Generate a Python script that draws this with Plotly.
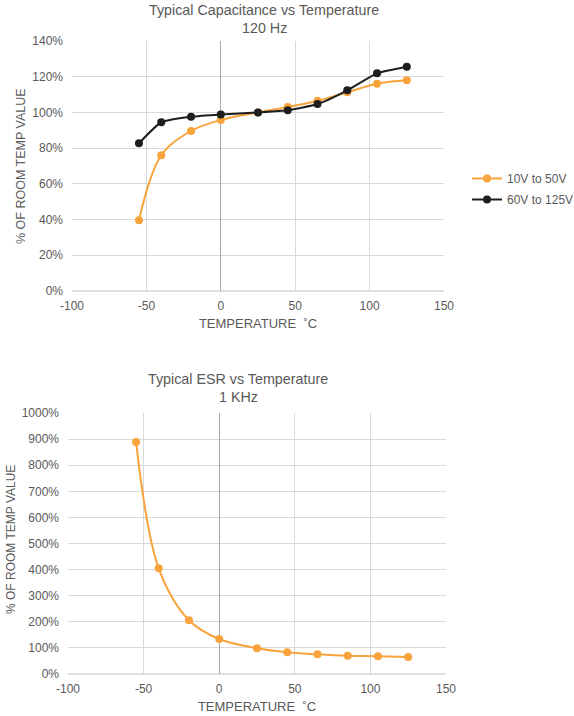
import plotly.graph_objects as go

temps = [-55, -40, -20, 0, 25, 45, 65, 85, 105, 125]
cap_low_v = [39.6, 76, 89.6, 95.8, 100, 103, 106.5, 111.3, 116.1, 118]
cap_high_v = [82.7, 94.5, 97.6, 98.9, 100, 101.2, 104.7, 112.4, 121.9, 125.6]
esr = [889, 405, 206, 134, 98.5, 83, 75.5, 70, 68, 65]

cap_ticks = [0, 20, 40, 60, 80, 100, 120, 140]
esr_ticks = [0, 100, 200, 300, 400, 500, 600, 700, 800, 900, 1000]
x_ticks = [-100, -50, 0, 50, 100, 150]

W, H = 574, 716
ORANGE = "#F9A33D"
BLACK = "#1E1E1E"
GREY = "#595959"
GRID = "#D9D9D9"
FONT = "Liberation Sans, Arial, sans-serif"

fig = go.Figure()
fig.add_trace(go.Scatter(x=temps, y=cap_low_v, name="10V to 50V", mode="lines+markers",
                         legendgroup="a",
                         line=dict(color=ORANGE, width=2, shape="spline", smoothing=1),
                         marker=dict(color=ORANGE, size=8), xaxis="x", yaxis="y"))
fig.add_trace(go.Scatter(x=temps, y=cap_high_v, name="60V to 125V", mode="lines+markers",
                         legendgroup="b",
                         line=dict(color=BLACK, width=2, shape="spline", smoothing=0.5),
                         marker=dict(color=BLACK, size=8), xaxis="x", yaxis="y"))
fig.add_trace(go.Scatter(x=temps, y=esr, name="ESR", mode="lines+markers", showlegend=False,
                         line=dict(color=ORANGE, width=2, shape="spline", smoothing=1),
                         marker=dict(color=ORANGE, size=8), xaxis="x2", yaxis="y2"))


def px_x(p):
    return p / W


def px_y(p):
    return 1 - p / H


tickfont = dict(size=12, color=GREY, family=FONT)
x_text = [str(v) for v in x_ticks]


def xaxis(dom, anchor):
    return dict(domain=dom, anchor=anchor, range=[-100, 150],
                tickvals=x_ticks, ticktext=x_text, ticks="", tickfont=tickfont,
                ticklabelstandoff=6, automargin=False,
                showgrid=True, gridcolor=GRID, gridwidth=1, showline=False,
                zeroline=True, zerolinecolor="#ABABAB", zerolinewidth=1,
                title=dict(text="TEMPERATURE  ˚C", font=dict(size=13, color=GREY), standoff=6))


def yaxis(dom, anchor, rng, vals):
    return dict(domain=dom, anchor=anchor, range=rng, automargin=False,
                tickvals=vals, ticktext=[f"{v}%" for v in vals], ticks="", tickfont=tickfont,
                ticklabelstandoff=8,
                showgrid=True, gridcolor=GRID, gridwidth=1, showline=False, zeroline=False)


fig.update_layout(
    width=W, height=H, margin=dict(l=0, r=0, t=0, b=0, pad=0, autoexpand=False),
    paper_bgcolor="white", plot_bgcolor="white",
    font=dict(family=FONT, color=GREY),
    xaxis=xaxis([px_x(72), px_x(444)], "y"),
    yaxis=yaxis([px_y(291), px_y(41)], "x", [0, 140], cap_ticks),
    xaxis2=xaxis([px_x(68), px_x(446)], "y2"),
    yaxis2=yaxis([px_y(674), px_y(413)], "x2", [0, 1000], esr_ticks),
    legend=dict(x=px_x(467), y=px_y(164), xanchor="left", yanchor="top",
                font=dict(size=12, color=GREY), bgcolor="rgba(0,0,0,0)",
                itemwidth=30, tracegroupgap=2),
)

for xa, ya in (("x", "y"), ("x2", "y2")):
    fig.add_shape(type="line", xref=f"{xa} domain", yref=f"{ya} domain",
                  x0=0, x1=1, y0=0, y1=0, line=dict(color="#BFBFBF", width=1))


def text_at(txt, x, y, size=14.3, angle=0):
    fig.add_annotation(text=txt, x=px_x(x), y=px_y(y), xref="paper", yref="paper",
                       xanchor="center", yanchor="middle", showarrow=False, textangle=angle,
                       font=dict(size=size, color=GREY, family=FONT))


text_at("Typical Capacitance vs Temperature", 264, 10)
text_at("120 Hz", 264, 28)
text_at("Typical ESR vs Temperature", 238, 379)
text_at("1 KHz", 238, 397)
text_at("% OF ROOM TEMP VALUE", 21, 166, size=12.5, angle=-90)
text_at("% OF ROOM TEMP VALUE", 11, 540, size=12, angle=-90)

fig.write_html("out.html", config={"displayModeBar": False},
               post_script="document.body.style.margin='0';document.body.style.overflow='hidden';")
